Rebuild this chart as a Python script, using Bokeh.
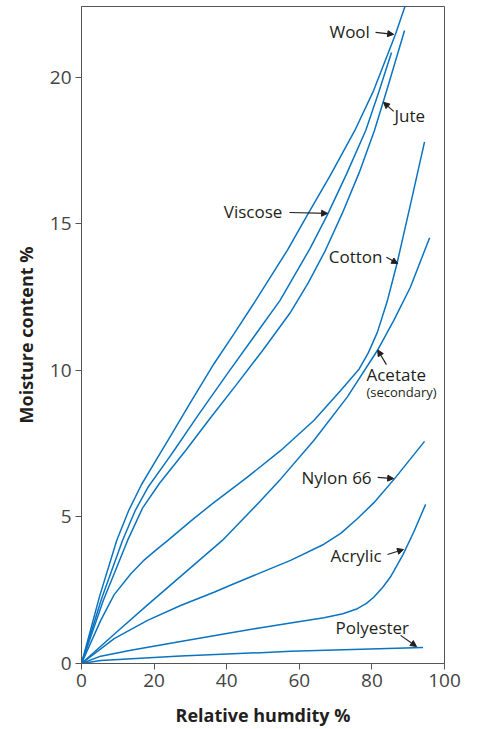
from bokeh.plotting import figure
from bokeh.models import Range1d, FixedTicker, Label, Arrow, NormalHead
from bokeh.embed import file_html
from bokeh.resources import INLINE

# ---- data ----
wool_x = [0, 5.0, 9.7, 13.0, 16.5, 20.5, 24.6, 30.0, 36.5, 42.0, 48.0, 56.7, 62.2, 68.5, 75.3, 80.5, 86.5, 89.6]
wool_y = [0, 2.3, 4.2, 5.22, 6.1, 6.93, 7.78, 8.9, 10.23, 11.25, 12.39, 14.1, 15.3, 16.65, 18.19, 19.56, 21.47, 22.6]

viscose_x = [0, 5.5, 11.3, 14.8, 18.5, 23.6, 25.5, 32.0, 40.2, 47.5, 54.7, 62.9, 67.7, 73.0, 78.3, 81.9, 85.4]
viscose_y = [0, 2.2, 4.2, 5.22, 6.05, 6.93, 7.27, 8.45, 9.89, 11.15, 12.39, 14.15, 15.3, 16.7, 18.19, 19.5, 20.85]

jute_x = [0, 6.0, 12.7, 16.8, 21.5, 26.5, 28.7, 35.5, 42.9, 50.0, 57.4, 62.5, 67.2, 71.8, 76.5, 80.7, 84.1, 89.0]
jute_y = [0, 2.15, 4.2, 5.3, 6.15, 6.93, 7.27, 8.38, 9.55, 10.7, 11.95, 13.0, 14.1, 15.35, 16.75, 18.19, 19.56, 21.6]

cotton_x = [0, 5.3, 9.0, 13.6, 17.0, 20.4, 23.8, 30.0, 36.0, 45.7, 54.9, 64.0, 71.4, 76.5, 79.0, 81.5, 84.2, 86.9, 90.6, 94.5]
cotton_y = [0, 1.47, 2.35, 3.06, 3.5, 3.86, 4.2, 4.85, 5.45, 6.36, 7.27, 8.29, 9.32, 10.05, 10.6, 11.3, 12.35, 13.64, 15.65, 17.8]

acetate_x = [0, 9.0, 18.2, 28.5, 38.8, 49.4, 54.9, 64.0, 73.2, 81.5, 86.0, 90.6, 95.9]
acetate_y = [0, 1.0, 2.0, 3.1, 4.2, 5.56, 6.3, 7.61, 9.09, 10.68, 11.7, 12.84, 14.53]

nylon_x = [0, 9.0, 18.2, 27.3, 36.5, 42.0, 49.4, 57.6, 66.8, 71.5, 75.9, 80.5, 86.2, 94.5]
nylon_y = [0, 0.85, 1.47, 1.98, 2.43, 2.72, 3.1, 3.52, 4.07, 4.45, 4.93, 5.48, 6.3, 7.58]

acrylic_x = [0, 5.3, 13.6, 27.3, 42.0, 49.4, 57.6, 66.8, 72.0, 76.0, 78.5, 80.5, 83.0, 85.1, 88.5, 91.5, 94.8]
acrylic_y = [0, 0.25, 0.45, 0.75, 1.07, 1.22, 1.38, 1.56, 1.7, 1.87, 2.05, 2.26, 2.6, 2.95, 3.7, 4.48, 5.43]

polyester_x = [0, 5.3, 27.3, 49.4, 57.6, 94.1]
polyester_y = [0, 0.1, 0.26, 0.37, 0.42, 0.55]

x_ticks = [0, 20, 40, 60, 80, 100]
y_ticks = [0, 5, 10, 15, 20]

series = [
    (wool_x, wool_y), (viscose_x, viscose_y), (jute_x, jute_y),
    (cotton_x, cotton_y), (acetate_x, acetate_y), (nylon_x, nylon_y),
    (acrylic_x, acrylic_y), (polyester_x, polyester_y),
]

# ---- annotation layout: (text, text_x, text_y, size, arrow) ----
annotations = [
    ("Wool", 68.3, 21.57, "17px", (81.0, 21.54, 86.0, 21.47)),
    ("Jute", 86.2, 18.70, "17px", (86.0, 18.84, 83.2, 19.15)),
    ("Viscose", 39.2, 15.43, "17px", (57.3, 15.39, 67.8, 15.36)),
    ("Cotton", 68.1, 13.89, "17px", (84.0, 13.86, 87.1, 13.65)),
    ("Acetate", 78.5, 9.86, "17px", (84.0, 10.2, 81.6, 10.7)),
    ("(secondary)", 78.5, 9.25, "13px", None),
    ("Nylon 66", 60.6, 6.35, "17px", (81.6, 6.35, 86.0, 6.31)),
    ("Acrylic", 68.6, 3.69, "17px", (84.3, 3.72, 88.7, 3.89)),
    ("Polyester", 70.0, 1.23, "17px", (87.9, 0.96, 92.3, 0.58)),
]

LINE = "#0a74c0"
TXT = "#231f20"
FONT = "Open Sans"

p = figure(frame_width=363, frame_height=657,
           x_range=Range1d(0, 100), y_range=Range1d(0, 22.42),
           output_backend="svg", toolbar_location=None,
           min_border_left=81, min_border_right=20, min_border_top=6, min_border_bottom=50)

p.grid.visible = False
p.outline_line_color = "#555555"
p.outline_line_width = 1

for xs, ys in series:
    p.line(xs, ys, line_color=LINE, line_width=1.5, line_join="round")

for ax, ticks in ((p.xaxis[0], x_ticks), (p.yaxis[0], y_ticks)):
    ax.ticker = FixedTicker(ticks=ticks)
    ax.minor_tick_line_color = None
    ax.major_tick_in = 0
    ax.major_tick_out = 6
    ax.axis_line_color = "#555555"
    ax.major_tick_line_color = "#555555"
    ax.major_label_text_font = FONT
    ax.major_label_text_font_size = "19px"
    ax.major_label_text_color = "#444444"
    ax.axis_label_text_font = FONT
    ax.axis_label_text_font_style = "bold"
    ax.axis_label_text_font_size = "18px"
    ax.axis_label_text_color = TXT

p.xaxis.axis_label = "Relative humdity %"
p.yaxis.axis_label = "Moisture content %"
p.xaxis.major_label_standoff = 4
p.yaxis.major_label_standoff = 4
p.xaxis.axis_label_standoff = 13
p.yaxis.axis_label_standoff = 9

for text, tx, ty, size, arr in annotations:
    p.add_layout(Label(x=tx, y=ty, text=text, text_font=FONT, text_font_size=size,
                       text_color=TXT, text_baseline="middle", text_align="left"))
    if arr is not None:
        x0, y0, x1, y1 = arr
        p.add_layout(Arrow(x_start=x0, y_start=y0, x_end=x1, y_end=y1,
                           line_color=TXT, line_width=1.2,
                           end=NormalHead(size=6, fill_color=TXT, line_color=TXT)))

open("out.html", "w").write(file_html(p, INLINE))
